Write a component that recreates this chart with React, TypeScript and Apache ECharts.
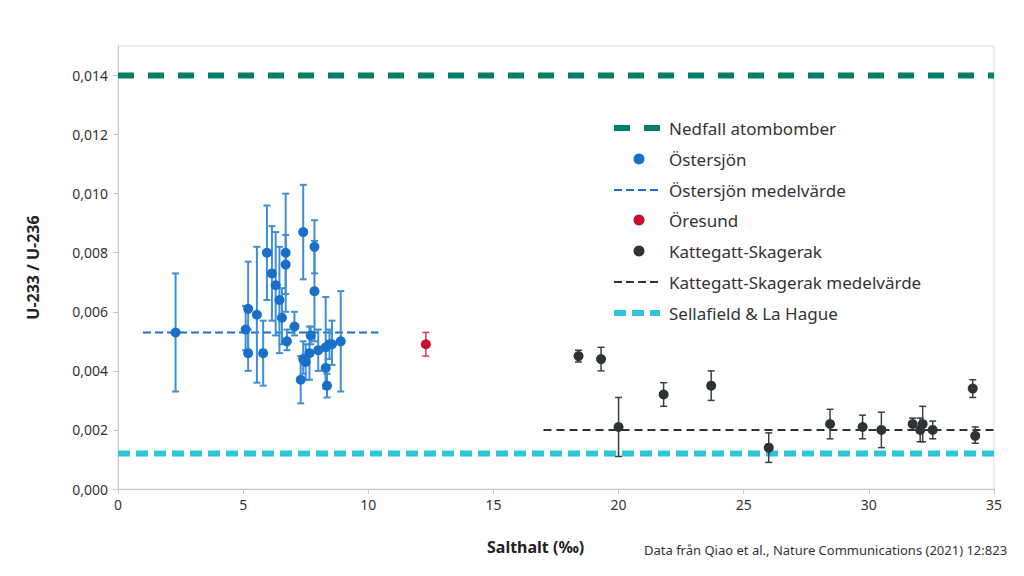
import React, { useEffect, useRef } from "react";
import * as echarts from "echarts";

// Östersjön: salinity, ratio, error low, error high
const balticX = [2.3, 5.1, 5.2, 5.2, 5.55, 5.8, 5.95, 6.15, 6.3, 6.45, 6.55, 6.7, 6.7, 6.75, 7.05, 7.3, 7.4, 7.4, 7.5, 7.65, 7.7, 7.85, 7.85, 8.0, 8.3, 8.3, 8.35, 8.45, 8.55, 8.9];
const balticY = [0.0053, 0.0054, 0.0061, 0.0046, 0.0059, 0.0046, 0.0080, 0.0073, 0.0069, 0.0064, 0.0058, 0.0080, 0.0076, 0.0050, 0.0055, 0.0037, 0.0087, 0.0044, 0.0043, 0.0046, 0.0052, 0.0082, 0.0067, 0.0047, 0.0048, 0.0041, 0.0035, 0.0049, 0.0049, 0.0050];
const balticLow = [0.0033, 0.0047, 0.0045, 0.0040, 0.0036, 0.0035, 0.0064, 0.0057, 0.0052, 0.0046, 0.0049, 0.0060, 0.0066, 0.0047, 0.0052, 0.0029, 0.0071, 0.0039, 0.0037, 0.0037, 0.0049, 0.0073, 0.0050, 0.0040, 0.0034, 0.0035, 0.0031, 0.0044, 0.0042, 0.0033];
const balticHigh = [0.0073, 0.0062, 0.0077, 0.0054, 0.0082, 0.0057, 0.0096, 0.0089, 0.0087, 0.0082, 0.0068, 0.0100, 0.0086, 0.0054, 0.0060, 0.0045, 0.0103, 0.0050, 0.0049, 0.0055, 0.0055, 0.0091, 0.0084, 0.0054, 0.0065, 0.0047, 0.0039, 0.0054, 0.0057, 0.0067];

const oresundX = [12.3];
const oresundY = [0.0049];
const oresundLow = [0.0045];
const oresundHigh = [0.0053];

const kattX = [18.4, 19.3, 20.0, 21.8, 23.7, 26.0, 28.45, 29.75, 30.5, 31.75, 32.05, 32.15, 32.55, 34.15, 34.25];
const kattY = [0.0045, 0.0044, 0.0021, 0.0032, 0.0035, 0.0014, 0.0022, 0.0021, 0.0020, 0.0022, 0.0020, 0.0022, 0.0020, 0.0034, 0.0018];
const kattLow = [0.0043, 0.0040, 0.0011, 0.0028, 0.0030, 0.0009, 0.0017, 0.0017, 0.0014, 0.0021, 0.0016, 0.0016, 0.0017, 0.0031, 0.00155];
const kattHigh = [0.0047, 0.0048, 0.0031, 0.0036, 0.0040, 0.0019, 0.0027, 0.0025, 0.0026, 0.0024, 0.0024, 0.0028, 0.0023, 0.0037, 0.0021];

const falloutLevel = 0.014;
const balticMean = 0.0053;
const balticMeanRange = [1.0, 10.4];
const kattMean = 0.002;
const kattMeanRange = [17.0, 35];
const reprocessingLevel = 0.0012;

const xMax = 35;
const yMax = 0.015;

const legendNames = [
  "Nedfall atombomber",
  "Östersjön",
  "Östersjön medelvärde",
  "Öresund",
  "Kattegatt-Skagerak",
  "Kattegatt-Skagerak medelvärde",
  "Sellafield & La Hague",
];

const FONT = "Noto Sans";

const C_GREEN = "#007f68";
const C_BLUE = "#1a70c8";
const C_BLUE_BAR = "#3f8fd6";
const C_RED = "#c8102e";
const C_DARK = "#2e3436";
const C_CYAN = "#2ec6d8";

// legend icon spec per entry (style only)
const legendIcons: any[] = [
  { kind: "line", color: C_GREEN, width: 6, dash: [16, 14] },
  { kind: "dot", color: C_BLUE },
  { kind: "line", color: C_BLUE, width: 2, dash: [8, 4] },
  { kind: "dot", color: C_RED },
  { kind: "dot", color: C_DARK },
  { kind: "line", color: C_DARK, width: 2, dash: [8, 4] },
  { kind: "line", color: C_CYAN, width: 6, dash: [12, 6] },
];

function errorSeries(name: string, xs: number[], lows: number[], highs: number[], color: string, width: number) {
  return {
    type: "custom",
    name,
    z: 3,
    silent: true,
    data: xs.map((x, i) => [x, lows[i], highs[i]]),
    encode: { x: 0, y: [1, 2] },
    renderItem: (params: any, api: any) => {
      const x = api.value(0);
      const lo = api.coord([x, api.value(1)]);
      const hi = api.coord([x, api.value(2)]);
      const hw = 3.5;
      const style = { stroke: color, lineWidth: width, fill: "none" };
      return {
        type: "group",
        children: [
          { type: "line", shape: { x1: lo[0], y1: lo[1], x2: hi[0], y2: hi[1] }, style },
          { type: "line", shape: { x1: lo[0] - hw, y1: lo[1], x2: lo[0] + hw, y2: lo[1] }, style },
          { type: "line", shape: { x1: hi[0] - hw, y1: hi[1], x2: hi[0] + hw, y2: hi[1] }, style },
        ],
      };
    },
  };
}

function buildLegend() {
  const left = 614;
  const w = 46;
  const top = 128;
  const step = 30.8;
  const els: any[] = [];
  legendNames.forEach((name, i) => {
    const cy = Math.round(top + i * step);
    const ic = legendIcons[i];
    if (ic.kind === "line") {
      els.push({
        type: "line",
        shape: { x1: left, y1: cy, x2: left + w, y2: cy },
        style: { stroke: ic.color, lineWidth: ic.width, lineDash: ic.dash },
      });
    } else {
      els.push({
        type: "circle",
        shape: { cx: left + w / 2 + 2, cy, r: 5.5 },
        style: { fill: ic.color },
      });
    }
    els.push({
      type: "text",
      x: 669,
      y: cy,
      style: { text: name, fill: "#333", font: `17px "${FONT}"`, verticalAlign: "middle" },
    });
  });
  return els;
}

export default function App() {
  const ref = useRef<HTMLDivElement>(null);
  useEffect(() => {
    if (!ref.current) return;
    const chart = echarts.init(ref.current, undefined, { renderer: "svg" });
    const fmt = (v: number) => (v > 0.0145 ? "" : v.toFixed(3).replace(".", ","));
    chart.setOption({
      animation: false,
      backgroundColor: "#ffffff",
      textStyle: { fontFamily: FONT },
      grid: { left: 118, right: 30, top: 46, bottom: 87, show: true, borderColor: "#dcdcdc", borderWidth: 1 },
      xAxis: {
        type: "value",
        min: 0,
        max: xMax,
        interval: 5,
        splitLine: { show: false },
        axisLine: { show: true, lineStyle: { color: "#c8c8c8" } },
        axisTick: { show: true, length: 5, lineStyle: { color: "#c8c8c8" } },
        axisLabel: { color: "#333", fontSize: 14, fontFamily: FONT, margin: 8 },
      },
      yAxis: {
        type: "value",
        min: 0,
        max: yMax,
        interval: 0.002,
        name: "U-233 / U-236",
        nameLocation: "middle",
        nameGap: 77,
        nameTextStyle: { color: "#222", fontSize: 16, fontWeight: "bold", fontFamily: FONT },
        splitLine: { show: false },
        axisLine: { show: true, lineStyle: { color: "#c8c8c8" } },
        axisTick: { show: true, length: 5, lineStyle: { color: "#c8c8c8" } },
        axisLabel: { color: "#333", fontSize: 14, fontFamily: FONT, margin: 10, formatter: fmt, showMaxLabel: false },
      },
      graphic: [
        ...buildLegend(),
        {
          type: "text",
          x: 487,
          y: 547,
          style: { text: "Salthalt (‰)", fill: "#222", font: `bold 16px "${FONT}"`, verticalAlign: "middle" },
        },
        {
          type: "text",
          x: 644,
          y: 550,
          style: {
            text: "Data från Qiao et al., Nature Communications (2021) 12:823",
            fill: "#333",
            font: `13px "${FONT}"`,
            verticalAlign: "middle",
          },
        },
      ],
      series: [
        {
          type: "line",
          name: "Nedfall atombomber",
          symbol: "none",
          z: 2,
          lineStyle: { color: C_GREEN, width: 6, type: [16, 14] },
          data: [[0, falloutLevel], [xMax, falloutLevel]],
        },
        {
          type: "line",
          name: "Sellafield & La Hague",
          symbol: "none",
          z: 2,
          lineStyle: { color: C_CYAN, width: 6, type: [12, 6] },
          data: [[0, reprocessingLevel], [xMax, reprocessingLevel]],
        },
        {
          type: "line",
          name: "Östersjön medelvärde",
          symbol: "none",
          z: 2,
          lineStyle: { color: C_BLUE, width: 2, type: [8, 4] },
          data: [[balticMeanRange[0], balticMean], [balticMeanRange[1], balticMean]],
        },
        {
          type: "line",
          name: "Kattegatt-Skagerak medelvärde",
          symbol: "none",
          z: 2,
          lineStyle: { color: C_DARK, width: 2, type: [8, 5] },
          data: [[kattMeanRange[0], kattMean], [kattMeanRange[1], kattMean]],
        },
        errorSeries("balticErr", balticX, balticLow, balticHigh, C_BLUE_BAR, 2),
        errorSeries("oresundErr", oresundX, oresundLow, oresundHigh, "#d0404f", 1.5),
        errorSeries("kattErr", kattX, kattLow, kattHigh, "#3a3f41", 1.5),
        {
          type: "scatter",
          name: "Östersjön",
          symbol: "circle",
          symbolSize: 10,
          z: 4,
          itemStyle: { color: C_BLUE, opacity: 1 },
          data: balticX.map((x, i) => [x, balticY[i]]),
        },
        {
          type: "scatter",
          name: "Öresund",
          symbol: "circle",
          symbolSize: 10,
          z: 4,
          itemStyle: { color: C_RED, opacity: 1 },
          data: oresundX.map((x, i) => [x, oresundY[i]]),
        },
        {
          type: "scatter",
          name: "Kattegatt-Skagerak",
          symbol: "circle",
          symbolSize: 10,
          z: 4,
          itemStyle: { color: C_DARK, opacity: 1 },
          data: kattX.map((x, i) => [x, kattY[i]]),
        },
      ],
    });
    return () => chart.dispose();
  }, []);
  return <div ref={ref} style={{ width: 1024, height: 576, position: "absolute", left: 0, top: 0 }} />;
}
